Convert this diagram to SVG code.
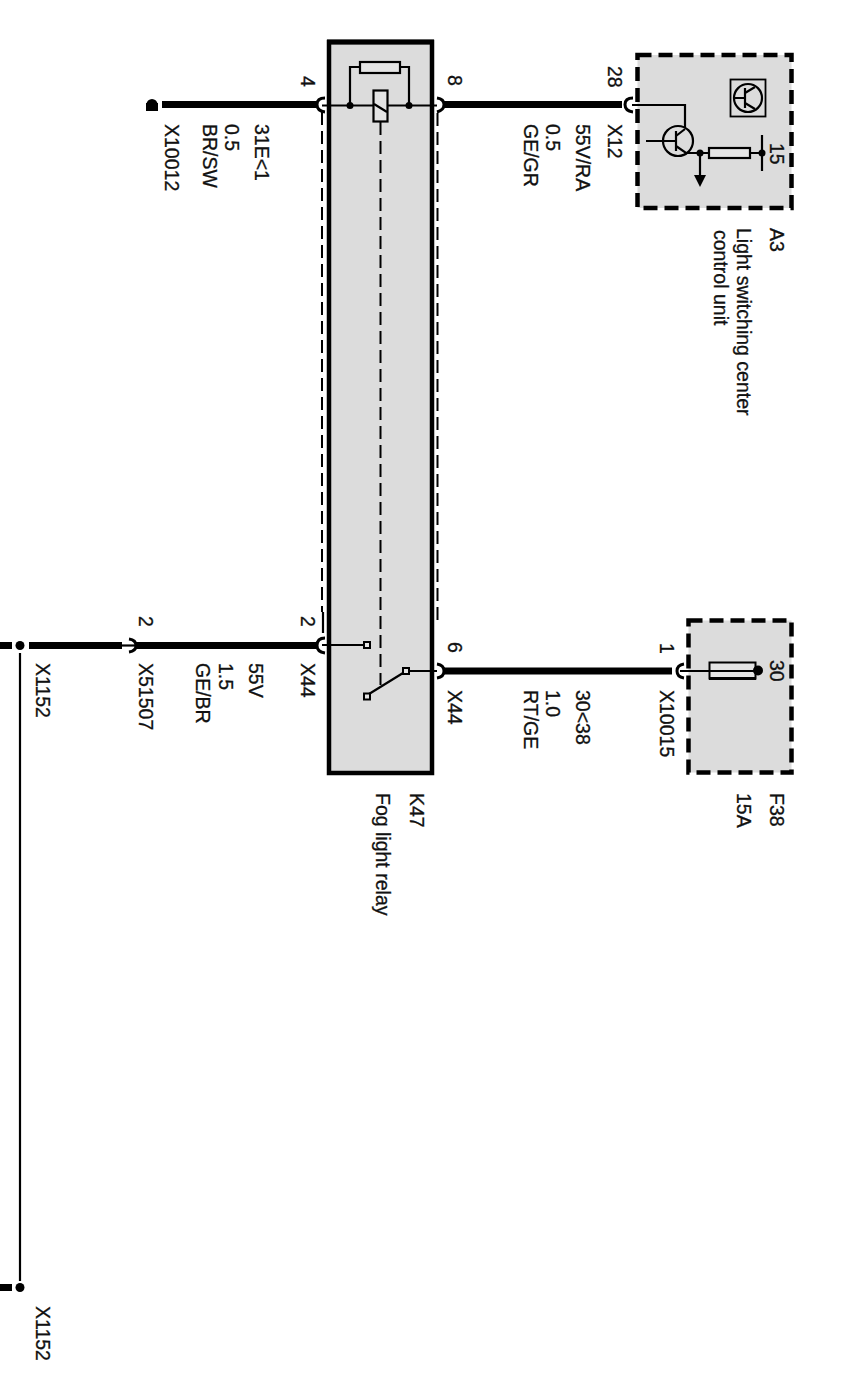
<svg xmlns="http://www.w3.org/2000/svg" width="861" height="1400" viewBox="0 0 861 1400">
<style>
text{font-family:"Liberation Sans",Arial,sans-serif;font-size:19.5px;fill:#111;stroke:#111;stroke-width:.3}
.thick{stroke:#000;stroke-width:7;fill:none}
.thin{stroke:#000;stroke-width:2.2;fill:none}
.conn{stroke:#000;stroke-width:3;fill:none}
.dash{stroke:#000;stroke-width:2;fill:none;stroke-dasharray:13 6}
.dbox{fill:#dcdcdc;stroke:#000;stroke-width:4.5;stroke-dasharray:14 7}
.part{fill:#e4e4e4;stroke:#000;stroke-width:2.2}
.sq{fill:#e4e4e4;stroke:#000;stroke-width:2}
</style>
<rect width="861" height="1400" fill="#fff"/>
<g id="K47">
<rect x="329" y="42" width="103" height="731" fill="#dcdcdc" stroke="#000" stroke-width="4.5"/>
<rect x="327" y="39.500" width="107" height="5" fill="#000"/>
<path class="thin" d="M322 105.500H437M350 105.500V67H360M400 67H409V105.500"/>
<rect class="part" x="360" y="62" width="40" height="11"/>
<circle cx="350" cy="105.500" r="3.500"/><circle cx="409" cy="105.500" r="3.500"/>
<rect class="part" x="373.500" y="90.500" width="14" height="31"/>
<path class="thin" d="M374 104L387 112"/>
<path class="dash" d="M380.500 122V685"/>
<path class="thin" d="M322 645H364M409 671H437M369 694L403 673"/>
<rect class="sq" x="364" y="642" width="6" height="6"/>
<rect class="sq" x="364" y="693.500" width="6" height="6"/>
<rect class="sq" x="403" y="668" width="6" height="6"/>
<text transform="translate(410,793) rotate(90)">K47</text>
<text transform="translate(376,793) rotate(90)">Fog light relay</text>
</g>
<g id="A3">
<rect class="dbox" x="637.500" y="55" width="154" height="153"/>
<path class="thin" d="M632 105H685V128"/>
<circle cx="678" cy="141" r="15" fill="none" stroke="#000" stroke-width="2.200"/>
<path class="thin" d="M646 141H676M676 131V151M676 136L685 129M676 146L686 153H709"/>
<circle cx="700" cy="153" r="3.500"/>
<path class="thin" d="M700 153V176"/>
<path d="M694 175H706L700 187Z"/>
<rect class="part" x="709" y="148" width="41" height="10"/>
<path class="thin" d="M750 153H762M762 135V171"/>
<circle cx="762" cy="153" r="3.500"/>
<rect x="730.500" y="79.500" width="35" height="37" fill="none" stroke="#000" stroke-width="1.800"/>
<circle cx="748" cy="98" r="14" fill="none" stroke="#000" stroke-width="2.200"/>
<path class="thin" d="M734 98H745M745 88V108M745 93L755 87M745 103L755 109"/>
<text transform="translate(770,143) rotate(90)">15</text>
<text transform="translate(770,228) rotate(90)">A3</text>
<text transform="translate(737,228) rotate(90)">Light switching center</text>
<text transform="translate(714,230) rotate(90)">control unit</text>
</g>
<g id="F38">
<rect class="dbox" x="688.500" y="620.500" width="103" height="152"/>
<rect x="709.500" y="662.500" width="46" height="16" fill="#e4e4e4" stroke="#000" stroke-width="2"/>
<path class="thin" d="M680 671H755"/>
<path d="M709 677H756V680H709Z"/>
<circle cx="758" cy="670.500" r="5"/>
<text transform="translate(770,660) rotate(90)">30</text>
<text transform="translate(770,793) rotate(90)">F38</text>
<text transform="translate(737,793) rotate(90)">15A</text>
</g>
<g id="connectors">
<circle cx="152" cy="104.500" r="5.500"/>
<rect x="146" y="103" width="12" height="8"/>
<path class="thick" d="M162 104.500H316"/>
<path class="conn" d="M325 98Q317 98 317 104.500Q317 111 325 112"/>
<path class="dash" d="M322 112V612"/>
<path class="thick" d="M444 104.500H622"/>
<path class="conn" d="M437 98Q444 99 444 104.500Q444 110 437 112"/>
<path class="dash" d="M437.500 113V623"/>
<path class="conn" d="M633 98Q625 98 625 104.500Q625 111 633 112"/>
<path class="thick" d="M0 645.500H12M29 645.500H122M136 645.500H316"/>
<path class="thin" d="M122 645.500H135"/>
<path class="conn" d="M129 639Q136 640 136 645.500Q136 651 129 652"/>
<path class="conn" d="M325 638Q317 638 317 645.500Q317 652 325 653"/>
<path class="thin" d="M323 612V633"/>
<circle cx="20" cy="645.500" r="4.500"/>
<path class="thin" d="M20 653V1281"/>
<circle cx="20" cy="1287.500" r="4.500"/>
<path class="thick" d="M0 1287.500H12"/>
<path class="thick" d="M444 671H672"/>
<path class="conn" d="M437 664Q444 665 444 671Q444 677 437 678"/>
<path class="conn" d="M684 664Q677 665 677 671Q677 677 684 678"/>
</g>
<g id="labels">
<text transform="translate(301,76) rotate(90)">4</text>
<text transform="translate(448,75) rotate(90)">8</text>
<text transform="translate(608,66) rotate(90)">28</text>
<text transform="translate(608,124) rotate(90)">X12</text>
<text transform="translate(576,124) rotate(90)">55V/RA</text>
<text transform="translate(546,124) rotate(90)">0.5</text>
<text transform="translate(524,124) rotate(90)">GE/GR</text>
<text transform="translate(255,124) rotate(90)">31E&lt;1</text>
<text transform="translate(225,124) rotate(90)">0.5</text>
<text transform="translate(203,124) rotate(90)">BR/SW</text>
<text transform="translate(165,124) rotate(90)">X10012</text>
<text transform="translate(301,616) rotate(90)">2</text>
<text transform="translate(301,663) rotate(90)">X44</text>
<text transform="translate(139,616) rotate(90)">2</text>
<text transform="translate(139,663) rotate(90)">X51507</text>
<text transform="translate(249,663) rotate(90)">55V</text>
<text transform="translate(219,663) rotate(90)">1.5</text>
<text transform="translate(196,663) rotate(90)">GE/BR</text>
<text transform="translate(36,663) rotate(90)">X1152</text>
<text transform="translate(36,1306) rotate(90)">X1152</text>
<text transform="translate(448,642) rotate(90)">6</text>
<text transform="translate(448,690) rotate(90)">X44</text>
<text transform="translate(576,690) rotate(90)">30&lt;38</text>
<text transform="translate(546,690) rotate(90)">1.0</text>
<text transform="translate(524,690) rotate(90)">RT/GE</text>
<text transform="translate(660,643) rotate(90)">1</text>
<text transform="translate(660,690) rotate(90)">X10015</text>
</g>
</svg>
